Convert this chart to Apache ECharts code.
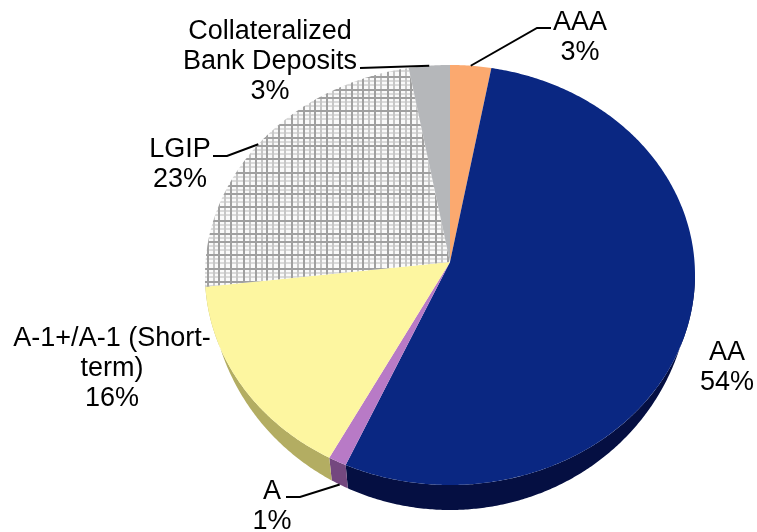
<!DOCTYPE html>
<html>
<head>
<meta charset="utf-8">
<style>
html,body{margin:0;padding:0;background:#fff;}
#main{width:757px;height:532px;}
</style>
<script src="https://cdn.jsdelivr.net/npm/echarts@6/dist/echarts.min.js"></script>
</head>
<body>
<div id="main"></div>
<script>
// credit quality pie, values in percent, clockwise from 12 o'clock
var categories = ['AAA', 'AA', 'A', 'A-1+/A-1 (Short-\nterm)', 'LGIP', 'Collateralized\nBank Deposits'];
var values = [2.7, 54.3, 1.2, 15.9, 23.2, 2.7];

var topColors = ['#fba96f', '#0a2782', '#b87ac6', '#fdf6a0', '#ffffff', '#b5b7ba'];
var sideColors = ['#a86f48', '#050f42', '#74487f', '#b3ad62', '#999999', '#77787a'];

// label centre x, first line y, then the leader start and elbow
var labelPos = [[580, 23], [727, 353], [272, 492], [112, 339], [180, 150], [270, 32]];
var leaders = [[[551, 28], [537, 28]], null, [[286, 497], [300, 497]], null, [[213, 156], [227, 156]], [[360, 68]]];

var topFace = {cx: 450, cy: 275, rx: 245, ry: 210};
var bottomFace = {cx: 450, cy: 282, rx: 240, ry: 228};
var apex = [450, 262];
var lineHeight = 30;
var labelFont = '27px "Liberation Sans", Arial, sans-serif';

function rim(face, deg) {
	var a = deg * Math.PI / 180;
	return [face.cx + face.rx * Math.sin(a), face.cy - face.ry * Math.cos(a)];
}

function arc(face, from, to) {
	var pts = [];
	var n = Math.max(2, Math.ceil((to - from) * 2));
	for (var i = 0; i <= n; i++) {
		pts.push(rim(face, from + (to - from) * i / n));
	}
	return pts;
}

// the LGIP hatching
function hatch() {
	var c = document.createElement('canvas');
	c.width = 48;
	c.height = 48;
	var g = c.getContext('2d');
	g.fillStyle = '#fafafa';
	g.fillRect(0, 0, 48, 48);
	g.fillStyle = '#dadada';
	[5, 9, 18, 22, 32, 36, 45].forEach(function (p) { g.fillRect(0, p, 48, 2); });
	g.fillStyle = '#c6c6c6';
	[9, 21, 32, 44].forEach(function (p) { g.fillRect(p, 0, 2, 48); });
	g.fillStyle = '#a0a0a0';
	[1, 14, 28, 41].forEach(function (p) { g.fillRect(0, p, 48, 2); });
	[3, 15, 26, 38].forEach(function (p) { g.fillRect(p, 0, 2, 48); });
	return c;
}
var hatchImage = hatch();

var sum = 0;
var slices = [];
for (var i = 0; i < values.length; i++) {
	slices.push([sum, sum + values[i]]);
	sum += values[i];
}

function renderSide(params, api) {
	var from = Math.max(api.value(0) / sum * 360, 90);
	var to = Math.min(api.value(1) / sum * 360, 270);
	if (from >= to) {
		return null;
	}
	var pts = arc(topFace, from, to).concat(arc(bottomFace, from, to).reverse());
	return {
		type: 'polygon',
		shape: {points: pts},
		style: {fill: sideColors[params.dataIndex]}
	};
}

function renderTop(params, api) {
	var from = api.value(0) / sum * 360;
	var to = api.value(1) / sum * 360;
	var fill = categories[params.dataIndex] === 'LGIP' ? {image: hatchImage, repeat: 'repeat'} : topColors[params.dataIndex];
	return {
		type: 'polygon',
		shape: {points: [apex].concat(arc(topFace, from, to))},
		style: {fill: fill}
	};
}

function renderLabel(params, api) {
	var k = params.dataIndex;
	var lines = categories[k].split('\n');
	lines.push(Math.round(values[k]) + '%');
	var children = lines.map(function (t, n) {
		return {
			type: 'text',
			style: {
				text: t,
				x: labelPos[k][0],
				y: labelPos[k][1] + n * lineHeight,
				fill: '#000',
				font: labelFont,
				align: 'center',
				verticalAlign: 'middle'
			}
		};
	});
	if (leaders[k]) {
		var mid = (api.value(0) + api.value(1)) / 2 / sum * 360;
		// slices on the front are pointed at from the lower rim
		var end = (mid > 90 && mid < 270) ? rim(bottomFace, mid) : rim(topFace, mid);
		children.push({
			type: 'polyline',
			shape: {points: leaders[k].concat([end])},
			style: {stroke: '#000', lineWidth: 2, fill: null}
		});
	}
	return {type: 'group', children: children};
}

var chart = echarts.init(document.getElementById('main'), null, {renderer: 'canvas'});
chart.setOption({
	animation: false,
	backgroundColor: '#fff',
	series: [
		{type: 'custom', coordinateSystem: 'none', z: 1, data: slices, renderItem: renderSide, silent: true},
		{type: 'custom', coordinateSystem: 'none', z: 2, data: slices, renderItem: renderTop, silent: true},
		{type: 'custom', coordinateSystem: 'none', z: 3, data: slices, renderItem: renderLabel, silent: true}
	]
});
</script>
</body>
</html>
